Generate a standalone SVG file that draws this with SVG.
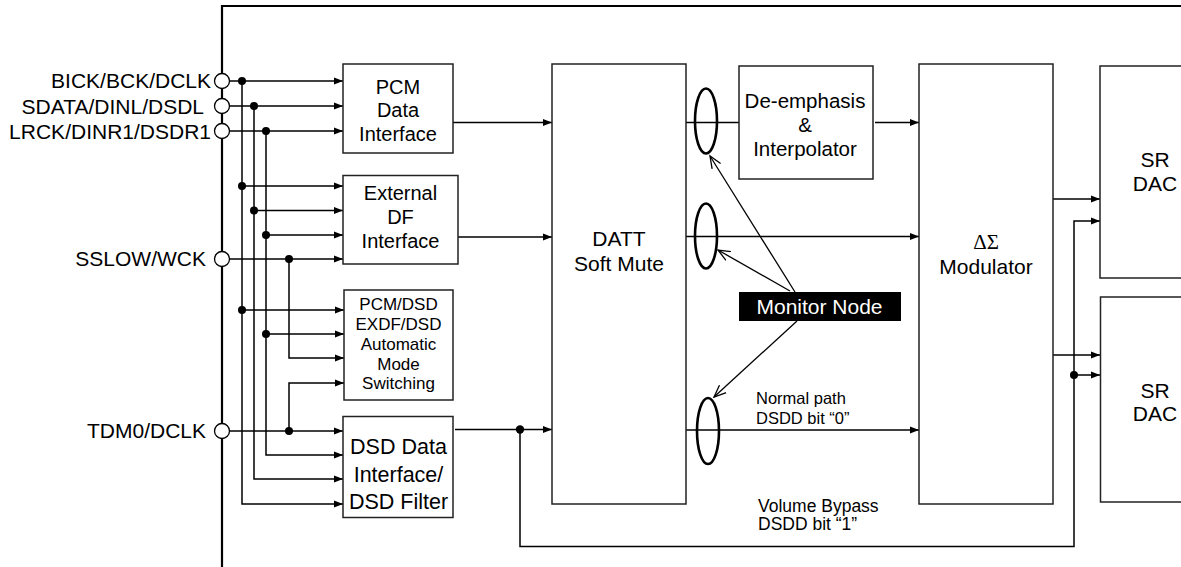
<svg xmlns="http://www.w3.org/2000/svg" width="1181" height="567" viewBox="0 0 1181 567">
<style>
.box{fill:#fff;stroke:#222;stroke-width:1.5}
.ln{fill:none;stroke:#000;stroke-width:1.5}
.arr{fill:none;stroke:#000;stroke-width:1.5;marker-end:url(#ah)}
.mon{fill:none;stroke:#000;stroke-width:1.3;marker-end:url(#oh)}
.dot{fill:#000}
.pin{fill:#fff;stroke:#000;stroke-width:1.3}
.ell{fill:none;stroke:#000;stroke-width:2.6}
text{font-family:"Liberation Sans",Arial,sans-serif;fill:#000}
.t20{font-size:20px;text-anchor:middle}
.t21{font-size:21px;text-anchor:middle}
.t17{font-size:17px;text-anchor:middle}
.pl{font-size:21px;text-anchor:end}
</style>
<defs>
<marker id="ah" markerUnits="userSpaceOnUse" markerWidth="10" markerHeight="8" refX="9" refY="4" orient="auto">
<path d="M0,0.5 L9,4 L0,7.5 z" fill="#000"/>
</marker>
<marker id="oh" markerUnits="userSpaceOnUse" markerWidth="14" markerHeight="12" refX="12" refY="6" orient="auto">
<path d="M0,1 L12,6 L0,11" fill="none" stroke="#000" stroke-width="1.3"/>
</marker>
</defs>
<rect width="1181" height="567" fill="#fff"/>

<g id="border">
<path d="M222,567 V6 H1181" fill="none" stroke="#000" stroke-width="2.2"/>
</g>

<g id="connectors">
<path class="arr" d="M229.5,81 H343"/>
<path class="arr" d="M229.5,106 H343"/>
<path class="arr" d="M229.5,131 H343"/>
<path class="arr" d="M242,81 V504 H343"/>
<path class="arr" d="M242,186 H343"/>
<path class="arr" d="M242,310 H344"/>
<path class="arr" d="M254,106 V479 H343"/>
<path class="arr" d="M254,210.5 H343"/>
<path class="arr" d="M266,131 V455 H343"/>
<path class="arr" d="M266,235 H343"/>
<path class="arr" d="M266,334 H344"/>
<path class="arr" d="M229.5,259 H343"/>
<path class="arr" d="M289,259 V358 H344"/>
<path class="arr" d="M229.5,431 H343"/>
<path class="arr" d="M289,431 V383 H344"/>
<path class="arr" d="M453,122.5 H552"/>
<path class="arr" d="M458,237 H552"/>
<path class="arr" d="M455,429.5 H552"/>
<path class="arr" d="M520,429.5 V546.5 H1074 V221 H1100"/>
<path class="arr" d="M1074,375 H1100"/>
<path class="ln" d="M686,122.5 H739"/>
<path class="arr" d="M875,122.5 H919"/>
<path class="arr" d="M686,236.5 H919"/>
<path class="arr" d="M686,430 H919"/>
<path class="arr" d="M1053,199 H1100"/>
<path class="arr" d="M1053,355 H1100"/>
<path class="mon" d="M795,292 L710,156"/>
<path class="mon" d="M790,291 L718,250"/>
<path class="mon" d="M797,321 L714,397"/>
<ellipse class="ell" cx="706" cy="121" rx="11" ry="32.5"/>
<ellipse class="ell" cx="706" cy="236" rx="11" ry="32.5"/>
<ellipse class="ell" cx="708" cy="431" rx="11" ry="33"/>
<circle class="dot" cx="242" cy="81" r="4"/>
<circle class="dot" cx="254" cy="106" r="4"/>
<circle class="dot" cx="266" cy="131" r="4"/>
<circle class="dot" cx="242" cy="186" r="4"/>
<circle class="dot" cx="254" cy="210.5" r="4"/>
<circle class="dot" cx="266" cy="235" r="4"/>
<circle class="dot" cx="289" cy="259" r="4"/>
<circle class="dot" cx="242" cy="310" r="4"/>
<circle class="dot" cx="266" cy="334" r="4"/>
<circle class="dot" cx="289" cy="431" r="4"/>
<circle class="dot" cx="520" cy="429.5" r="4.2"/>
<circle class="dot" cx="1074" cy="375" r="4"/>
<text x="756" y="404" style="font-size:16.5px">Normal path</text>
<text x="756" y="424" style="font-size:16.5px">DSDD bit “0”</text>
<text x="758" y="511.5" style="font-size:17.5px">Volume Bypass</text>
<text x="758" y="530" style="font-size:17.5px">DSDD bit “1”</text>
</g>

<g id="pins">
<g id="pin-bick"><circle class="pin" cx="222" cy="81" r="7.5"/><text class="pl" x="211" y="88">BICK/BCK/DCLK</text></g>
<g id="pin-sdata"><circle class="pin" cx="222" cy="106" r="7.5"/><text class="pl" x="204" y="113.5">SDATA/DINL/DSDL</text></g>
<g id="pin-lrck"><circle class="pin" cx="222" cy="131" r="7.5"/><text class="pl" x="211" y="139">LRCK/DINR1/DSDR1</text></g>
<g id="pin-sslow"><circle class="pin" cx="222" cy="259" r="7.5"/><text class="pl" x="206" y="266">SSLOW/WCK</text></g>
<g id="pin-tdm0"><circle class="pin" cx="222" cy="431" r="7.5"/><text class="pl" x="206" y="438">TDM0/DCLK</text></g>
</g>

<g id="pcm-data-interface">
<rect class="box" x="343" y="64" width="110" height="89"/>
<text class="t20" x="398" y="94">PCM</text>
<text class="t20" x="398" y="117">Data</text>
<text class="t20" x="398" y="141">Interface</text>
</g>
<g id="external-df-interface">
<rect class="box" x="343" y="175.5" width="115" height="88.5"/>
<text class="t20" x="400.5" y="200">External</text>
<text class="t20" x="400.5" y="223.5">DF</text>
<text class="t20" x="400.5" y="247.5">Interface</text>
</g>
<g id="mode-switching">
<rect class="box" x="344" y="290" width="109" height="110"/>
<text class="t17" x="398.5" y="310">PCM/DSD</text>
<text class="t17" x="398.5" y="330">EXDF/DSD</text>
<text class="t17" x="398.5" y="350">Automatic</text>
<text class="t17" x="398.5" y="370">Mode</text>
<text class="t17" x="398.5" y="389">Switching</text>
</g>
<g id="dsd-data-interface">
<rect class="box" x="343" y="416.5" width="110" height="101"/>
<text x="398.5" y="454" style="font-size:21.5px;text-anchor:middle">DSD Data</text>
<text x="398.5" y="481.5" style="font-size:21.5px;text-anchor:middle">Interface/</text>
<text x="398.5" y="509" style="font-size:21.5px;text-anchor:middle">DSD Filter</text>
</g>
<g id="datt">
<rect class="box" x="552" y="64" width="134" height="440"/>
<text class="t21" x="619" y="246">DATT</text>
<text class="t21" x="619" y="271">Soft Mute</text>
</g>
<g id="de-emphasis">
<rect class="box" x="739" y="66" width="134" height="113"/>
<text x="805" y="108" style="font-size:20.5px;text-anchor:middle">De-emphasis</text>
<text x="805" y="132" style="font-size:20.5px;text-anchor:middle">&amp;</text>
<text x="805" y="156" style="font-size:20.5px;text-anchor:middle">Interpolator</text>
</g>
<g id="monitor-node">
<rect x="739" y="292" width="162" height="29" fill="#000"/>
<text class="t21" x="819.5" y="313.5" style="fill:#fff">Monitor Node</text>
</g>
<g id="modulator">
<rect class="box" x="919" y="64" width="134" height="440"/>
<text x="986" y="249" style="font-family:'Liberation Serif','Times New Roman',serif;font-size:21px;text-anchor:middle">ΔΣ</text>
<text class="t21" x="986" y="274">Modulator</text>
</g>
<g id="sr-dac-1">
<rect class="box" x="1100" y="66" width="100" height="212"/>
<text class="t21" x="1155" y="167">SR</text>
<text class="t21" x="1155" y="191">DAC</text>
</g>
<g id="sr-dac-2">
<rect class="box" x="1100.5" y="297" width="100" height="205"/>
<text class="t21" x="1155" y="398">SR</text>
<text class="t21" x="1155" y="421">DAC</text>
</g>
</svg>
